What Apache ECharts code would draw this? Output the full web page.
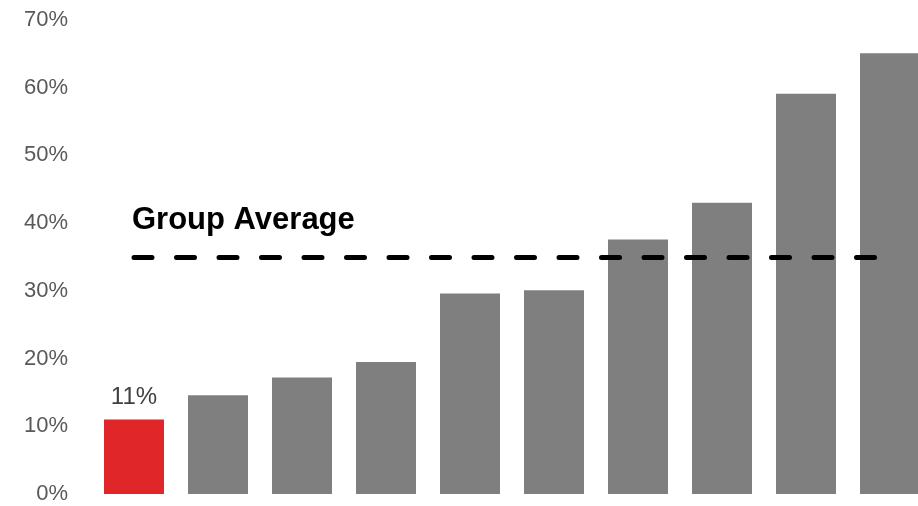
<!DOCTYPE html>
<html>
<head>
<meta charset="utf-8">
<script src="https://cdn.jsdelivr.net/npm/echarts@6/dist/echarts.min.js"></script>
<style>
  html, body { margin: 0; padding: 0; background: #ffffff; overflow: hidden; }
  #chart { width: 918px; height: 506px; }
</style>
</head>
<body>
<div id="chart"></div>
<script>
// Companies ranked by share, the highlighted one first
const categories = ['Company A', 'Company B', 'Company C', 'Company D', 'Company E',
                    'Company F', 'Company G', 'Company H', 'Company I', 'Company J'];
const shareValues = [11, 14.6, 17.2, 19.5, 29.6, 30.1, 37.6, 43.0, 59.1, 65.1];
const highlightIndex = 0;
const groupAverage = 35;
const averageLabel = 'Group Average';
const yTicks = [0, 10, 20, 30, 40, 50, 60, 70];

const FONT = '"Liberation Sans", Arial, sans-serif';

const barData = shareValues.map((v, i) => ({
  value: v,
  itemStyle: { color: i === highlightIndex ? '#e02628' : '#7f7f7f' },
  label: {
    show: i === highlightIndex,
    position: 'top',
    distance: 10,
    formatter: '{c}%',
    color: '#404040',
    fontSize: 24,
    fontFamily: FONT
  }
}));

const chart = echarts.init(document.getElementById('chart'), null, { renderer: 'canvas' });
chart.setOption({
  animation: false,
  backgroundColor: '#ffffff',
  // the plot runs past the right edge, so the last bar is cut off
  grid: {
    left: 92, width: 840, top: 20, bottom: 12,
    containLabel: false,
    outerBoundsMode: 'none'
  },
  xAxis: {
    type: 'category',
    data: categories,
    axisLine: { show: false },
    axisTick: { show: false },
    axisLabel: { show: false },
    splitLine: { show: false }
  },
  yAxis: {
    type: 'value',
    min: yTicks[0],
    max: yTicks[yTicks.length - 1],
    interval: 10,
    axisLine: { show: false },
    axisTick: { show: false },
    splitLine: { show: false },
    axisLabel: {
      formatter: '{value}%',
      color: '#595959',
      fontSize: 22,
      fontFamily: FONT,
      margin: 24
    }
  },
  series: [{
    type: 'bar',
    data: barData,
    barWidth: 60,
    markLine: {
      silent: true,
      symbol: ['none', 'none'],
      data: [[
        { coord: [categories[0], groupAverage] },
        { coord: [categories[categories.length - 1], groupAverage] }
      ]],
      lineStyle: { color: '#000000', width: 5, type: [18, 24.5], cap: 'round' },
      label: {
        show: true,
        position: 'insideStartTop',
        formatter: averageLabel,
        color: '#000000',
        fontSize: 31,
        fontWeight: 'bold',
        fontFamily: FONT,
        distance: [-2, 21]
      },
      emphasis: { disabled: true }
    }
  }]
});
</script>
</body>
</html>
